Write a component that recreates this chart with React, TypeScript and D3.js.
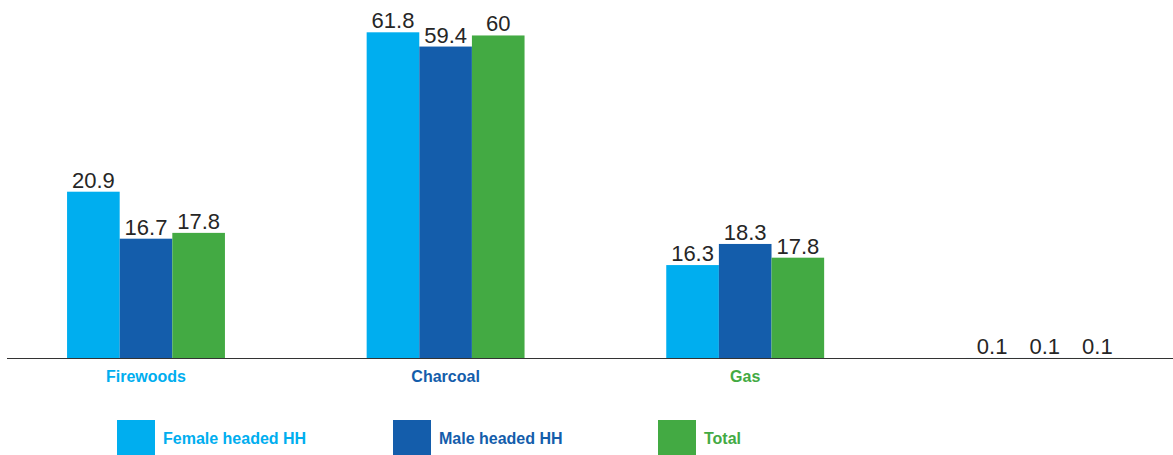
import React from "react";
import * as d3 from "d3";

// Categories (the fourth category has no label in the reference)
const categories = ["Firewoods", "Charcoal", "Gas", ""];
const seriesNames = ["Female headed HH", "Male headed HH", "Total"];

// Bar heights (chart units)
const femaleHeights = [31.6, 61.8, 17.7, 0.1];
const maleHeights = [22.7, 59.1, 21.7, 0.1];
const totalHeights = [23.8, 61.2, 19.1, 0.1];

// Printed data labels
const femaleLabels = ["20.9", "61.8", "16.3", "0.1"];
const maleLabels = ["16.7", "59.4", "18.3", "0.1"];
const totalLabels = ["17.8", "60", "17.8", "0.1"];

const colors = ["#00AEEF", "#145DAB", "#43AA43"];

const W = 1173;
const H = 455;
const baseline = 358.5;

export default function App() {
  const heights = [femaleHeights, maleHeights, totalHeights];
  const labels = [femaleLabels, maleLabels, totalLabels];

  const x0 = d3
    .scaleBand<string>()
    .domain(categories)
    .range([-3.8, 1194.6])
    .paddingInner(0.473)
    .paddingOuter(0.2365);
  const x1 = d3
    .scaleBand<string>()
    .domain(seriesNames)
    .range([0, x0.bandwidth()]);
  const y = d3.scaleLinear().domain([0, 61.8]).range([baseline, 32.3]);

  const font = "'Liberation Sans', Arial, sans-serif";
  const legendX = [117, 393, 658];

  return (
    <svg
      width={W}
      height={H}
      style={{ position: "absolute", left: 0, top: 0, background: "#fff" }}
      fontFamily={font}
    >
      {categories.map((c, ci) => (
        <g key={ci} transform={`translate(${x0(c)},0)`}>
          {seriesNames.map((s, si) => {
            const v = heights[si][ci];
            const bx = x1(s) as number;
            const bw = x1.bandwidth();
            return (
              <g key={s}>
                <rect
                  x={bx}
                  y={y(v)}
                  width={bw}
                  height={baseline - y(v)}
                  fill={colors[si]}
                />
                <text
                  x={bx + bw / 2}
                  y={y(v) - 4}
                  textAnchor="middle"
                  fontSize={22}
                  fill="#262626"
                >
                  {labels[si][ci]}
                </text>
              </g>
            );
          })}
          {c && (
            <text
              x={x0.bandwidth() / 2}
              y={382}
              textAnchor="middle"
              fontSize={16}
              fontWeight="bold"
              fill={colors[ci % 3]}
            >
              {c}
            </text>
          )}
        </g>
      ))}
      <line x1={7} x2={W} y1={baseline} y2={baseline} stroke="#333" strokeWidth={1.2} />
      {seriesNames.map((s, si) => (
        <g key={s} transform={`translate(${legendX[si]},420)`}>
          <rect x={0} y={0} width={38} height={38} fill={colors[si]} />
          <text x={46} y={24.3} fontSize={16} fontWeight="bold" fill={colors[si]}>
            {s}
          </text>
        </g>
      ))}
    </svg>
  );
}
